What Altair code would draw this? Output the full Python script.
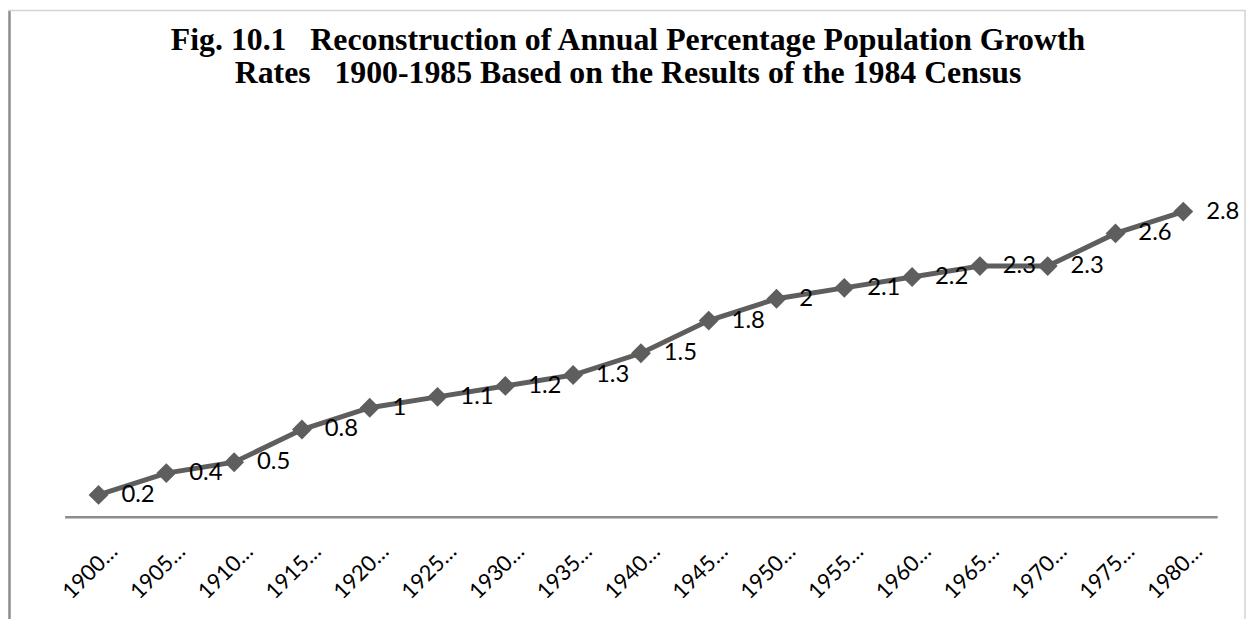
import altair as alt
import pandas as pd

periods = ["1900-1905", "1905-1910", "1910-1915", "1915-1920", "1920-1925",
           "1925-1930", "1930-1935", "1935-1940", "1940-1945", "1945-1950",
           "1950-1955", "1955-1960", "1960-1965", "1965-1970", "1970-1975",
           "1975-1980", "1980-1985"]
growth = [0.2, 0.4, 0.5, 0.8, 1.0, 1.1, 1.2, 1.3, 1.5, 1.8,
          2.0, 2.1, 2.2, 2.3, 2.3, 2.6, 2.8]
value_labels = ["0.2", "0.4", "0.5", "0.8", "1", "1.1", "1.2", "1.3", "1.5", "1.8",
                "2", "2.1", "2.2", "2.3", "2.3", "2.6", "2.8"]

df = pd.DataFrame({"period": periods, "growth": growth, "lab": value_labels})

LINE = "#5e5e5e"
NB = "\u00a0"

x_enc = alt.X("period:N", sort=periods, title=None,
              scale=alt.Scale(paddingInner=0, paddingOuter=0),
              axis=alt.Axis(labelAngle=315, labelAlign="right", labelBaseline="middle",
                            labelOffset=15, labelPadding=31, ticks=False,
                            domainColor="#8c8c8c", domainWidth=2.5,
                            labelFont="Lato", labelFontSize=22, labelColor="#000000",
                            labelExpr="slice(datum.label, 0, 4) + '…'", grid=False))
y_enc = alt.Y("growth:Q", scale=alt.Scale(domain=[0, 3], nice=False), axis=None)

base = alt.Chart(df).encode(x=x_enc, y=y_enc)

line = base.mark_line(color=LINE, strokeWidth=5)
pts = base.mark_point(shape="diamond", filled=True, size=400, color=LINE, opacity=1)
txt = base.mark_text(align="left", baseline="middle", dx=23, font="Lato",
                     fontSize=24, color="#000000").encode(text="lab:N")

one = pd.DataFrame({"a": [0]})
left_border = alt.Chart(one).mark_rule(color="#8c8c8c", strokeWidth=2.5).encode(
    x=alt.value(-55.5), y=alt.value(-181), y2=alt.value(432))
top_border = alt.Chart(one).mark_rule(color="#d4d4d4", strokeWidth=1.5).encode(
    x=alt.value(-57), x2=alt.value(1188), y=alt.value(-180.5))
right_border = alt.Chart(one).mark_rule(color="#d4d4d4", strokeWidth=1.5).encode(
    x=alt.value(1188), y=alt.value(-181), y2=alt.value(432))

title_lines = [
    "Fig. 10.1" + NB * 3 + "Reconstruction of Annual Percentage Population Growth",
    "Rates" + NB * 3 + "1900-1985 Based on the Results of the 1984 Census",
]

chart = alt.layer(left_border, top_border, right_border, line, pts, txt).properties(
    width=1160, height=329,
    autosize=alt.AutoSizeParams(type="none"),
    padding={"left": 57, "top": 181, "right": 30, "bottom": 103},
    title=alt.TitleParams(
        title_lines,
        font="Liberation Serif", fontSize=32, fontWeight="bold", color="#000000",
        anchor="middle", frame="group", dx=-13, offset=-82, lineHeight=33),
).configure_view(stroke=None)

chart.save("out.html", embed_options={"renderer": "svg", "actions": False})
